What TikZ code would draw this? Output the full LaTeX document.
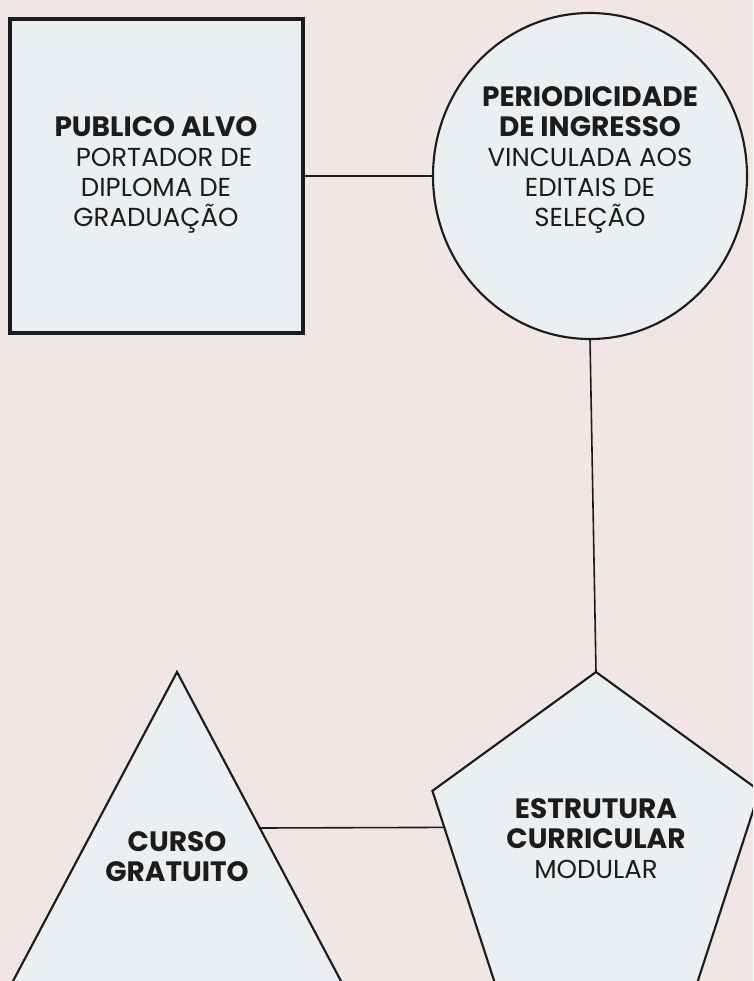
\documentclass[tikz,border=0pt]{standalone}
\usepackage{fontspec}
\setmainfont{Poppins}
\usetikzlibrary{shapes.geometric,calc}
\definecolor{bg}{RGB}{242,229,229}
\definecolor{shapefill}{RGB}{235,239,241}
\definecolor{ink}{RGB}{28,28,28}
\begin{document}
\begin{tikzpicture}[x=0.75pt,y=-0.75pt,
  shapebox/.style={draw=ink, fill=shapefill, line width=1.6pt, inner sep=0pt, outer sep=0pt},
  connector/.style={draw=ink, line width=1.2pt},
  txt/.style={text=ink, align=center, font=\fontsize{19.5}{22.5}\selectfont, inner sep=0pt}
]
\useasboundingbox (0,0) rectangle (753,981);
\fill[bg] (0,0) rectangle (753,981);
\clip (0,0) rectangle (753,981);

% shapes
\node[shapebox, rectangle, line width=2.4pt, minimum width=219.75pt, minimum height=235.5pt] (publico) at (156.5,176) {};
\node[shapebox, ellipse, minimum width=235.5pt, minimum height=244.5pt] (periodo) at (590,176) {};
\node[shapebox, regular polygon, regular polygon sides=5, minimum size=258pt] (estrutura) at (596,844) {};
\coordinate (apex) at (177,672);
\coordinate (baseL) at (-5,1015);
\coordinate (baseR) at (359,1015);
\path[shapebox] (apex) -- (baseR) -- (baseL) -- cycle;

% connectors
\coordinate (triR) at ($(apex)!0.4548!(baseR)$);
\coordinate (pentL) at ($(estrutura.corner 2)!0.19!(estrutura.corner 3)$);
\draw[connector] (publico.east) -- (periodo.west);
\draw[connector] (periodo.south) -- (estrutura.corner 1);
\draw[connector] (triR) -- (pentL);

% texts
\newcommand{\hdfont}{\fontsize{21}{22.5}\selectfont\bfseries}
\node[txt] (publicotxt) at (156,175) {{\hdfont PUBLICO ALVO}\\\hspace*{12pt}PORTADOR DE\\DIPLOMA DE\\GRADUAÇÃO};
\node[txt] (periodotxt) at (590,160) {{\hdfont PERIODICIDADE}\\{\hdfont DE INGRESSO}\\VINCULADA AOS\\EDITAIS DE\\SELEÇÃO};
\node[txt] (estruturatxt) at (596,839) {{\hdfont ESTRUTURA}\\{\hdfont CURRICULAR}\\MODULAR};
\node[txt] (cursotxt) at (177,857) {{\hdfont CURSO}\\{\hdfont GRATUITO}};
\end{tikzpicture}
\end{document}
